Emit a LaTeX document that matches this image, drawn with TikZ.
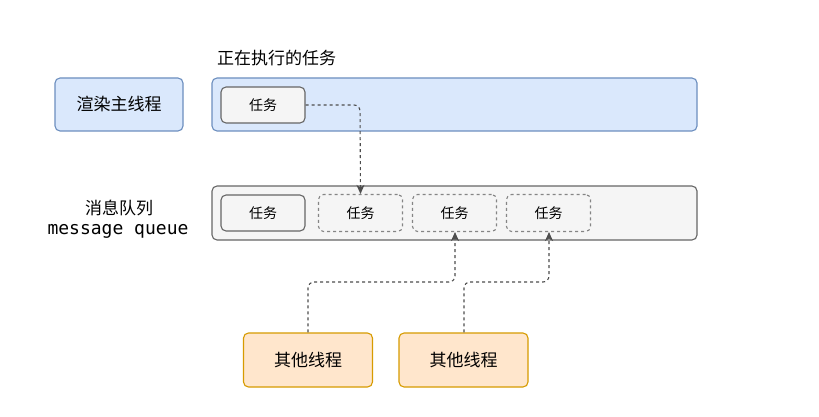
\documentclass[tikz,border=0pt]{standalone}
\usepackage{fontspec}
\setmainfont{Noto Sans CJK SC}
\newfontfamily\cjk{Noto Sans CJK SC}
\newfontfamily\monof{DejaVu Sans Mono}
\usetikzlibrary{arrows.meta}
\definecolor{blueF}{HTML}{DAE8FC}
\definecolor{blueS}{HTML}{6C8EBF}
\definecolor{grayF}{HTML}{F5F5F5}
\definecolor{grayS}{HTML}{666666}
\definecolor{orF}{HTML}{FFE6CC}
\definecolor{orS}{HTML}{D79B00}
\definecolor{lineC}{HTML}{4D4D4D}
\begin{document}
\begin{tikzpicture}[x=1pt,y=-1pt,
  box/.style={draw, rounded corners=5pt, line width=1.1pt, inner sep=0pt, font=\cjk\fontsize{17}{20}\selectfont},
  bluebox/.style={box, fill=blueF, draw=blueS},
  graybox/.style={box, fill=grayF, draw=grayS},
  orbox/.style={box, fill=orF, draw=orS},
  taskbox/.style={graybox, font=\cjk\fontsize{14}{16}\selectfont},
  dtaskbox/.style={taskbox, dashed, dash pattern=on 3pt off 3pt, draw=grayS!80},
  conn/.style={draw=lineC, line width=1.1pt, dash pattern=on 3pt off 3pt, rounded corners=6pt, -{Stealth[length=9pt,width=8pt,inset=2.5pt]}},
  lbl/.style={font=\cjk\fontsize{17}{20}\selectfont, inner sep=0pt}
]
\useasboundingbox (0,0) rectangle (819,417);
\path[fill=white] (0,0) rectangle (819,417);

% labels
\node[bluebox, minimum width=128pt, minimum height=53pt] (render) at (119,104.5) {渲染主线程};
\node[lbl, anchor=west] (running) at (217,58) {正在执行的任务};
\node[lbl] (mq) at (119,208) {消息队列};
\node[inner sep=0pt, font=\monof\fontsize{18}{20}\selectfont] (mqen) at (118,231) {message queue};

% bands
\node[bluebox, minimum width=485pt, minimum height=53pt] (band) at (454.5,104.5) {};
\node[graybox, minimum width=485pt, minimum height=54pt] (queue) at (454.5,213) {};

% tasks
\node[taskbox, minimum width=84pt, minimum height=36pt] (cur) at (263,105) {任务};
\node[taskbox, minimum width=84pt, minimum height=36pt] (q1) at (263,213) {任务};
\node[dtaskbox, minimum width=84pt, minimum height=37pt] (q2) at (360.5,213) {任务};
\node[dtaskbox, minimum width=84pt, minimum height=37pt] (q3) at (454.5,213) {任务};
\node[dtaskbox, minimum width=84pt, minimum height=37pt] (q4) at (548.5,213) {任务};

% other threads
\node[orbox, minimum width=129pt, minimum height=54pt] (t1) at (308,360) {其他线程};
\node[orbox, minimum width=129pt, minimum height=54pt] (t2) at (463.5,360) {其他线程};

% connectors
\coordinate (c1) at (360,105);
\draw[conn] (cur.east) -- (c1) -- (q2.north);
\coordinate (c2a) at (308,282);
\coordinate (c2b) at (455,282);
\draw[conn] (t1.north) -- (c2a) -- (c2b) -- (q3.south -| c2b);
\coordinate (c3a) at (464,282);
\coordinate (c3b) at (549,282);
\draw[conn] (t2.north -| c3a) -- (c3a) -- (c3b) -- (q4.south -| c3b);
\end{tikzpicture}
\end{document}
